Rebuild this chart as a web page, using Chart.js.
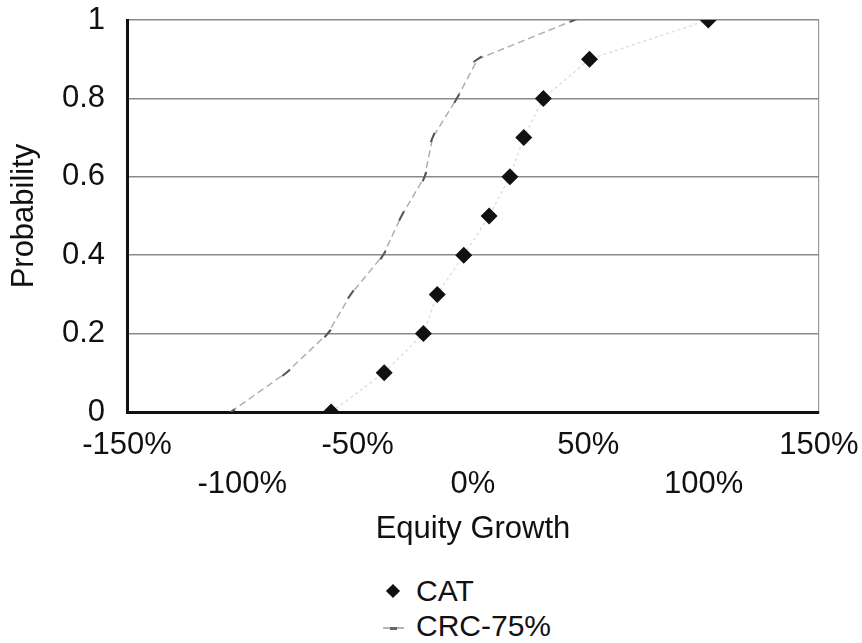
<!DOCTYPE html>
<html>
<head>
<meta charset="utf-8">
<script src="https://cdn.jsdelivr.net/npm/chart.js@4/dist/chart.umd.min.js"></script>
<style>
  html, body { margin: 0; padding: 0; background: #ffffff; }
  #wrap { position: relative; width: 862px; height: 643px; font-family: "Liberation Sans", Arial, sans-serif; color: #111; }
  #box { position: absolute; left: 0; top: 0; width: 862px; height: 560px; }
  .item { position: absolute; left: 0; height: 36px; line-height: 36px; font-size: 30px; white-space: nowrap; }
  .item span.txt { position: absolute; left: 416px; top: 0; }
  .mark-diamond { position: absolute; left: 388px; top: 13px; width: 10px; height: 10px; background: #111; transform: rotate(45deg); }
  .mark-dash { position: absolute; left: 383px; top: 19px; width: 21px; height: 2px; background: #b5b5b5; }
  .mark-dash::after { content: ""; position: absolute; left: 7px; top: -0.5px; width: 7px; height: 3px; background: #666; }
</style>
</head>
<body>
<div id="wrap">
  <div id="box"><canvas id="chart" width="862" height="560"></canvas></div>
  <div id="legend"></div>
</div>
<script>
// Cumulative probability levels shared by both series
const probability = [0, 0.1, 0.2, 0.3, 0.4, 0.5, 0.6, 0.7, 0.8, 0.9, 1];
// Equity growth (%) at each probability level
const catGrowth = [-61.5, -38.5, -21.5, -15.5, -4, 7, 16, 22, 30.5, 50.5, 102];
const crcGrowth = [-105, -81, -63, -53, -39, -31, -21, -17.5, -7, 2, 44];
const seriesNames = ['CAT', 'CRC-75%'];
const xTickValues = [-150, -100, -50, 0, 50, 100, 150];
const yTickValues = [0, 0.2, 0.4, 0.6, 0.8, 1];
const xTitle = 'Equity Growth';
const yTitle = 'Probability';

const FONT = '"Liberation Sans", Arial, sans-serif';
Chart.defaults.font.family = FONT;
Chart.defaults.color = '#111';

const toPoints = (xs) => probability.map((p, i) => ({ x: xs[i], y: p }));

// Orient each dash marker along the local direction of the curve
function dashAngle(ctx) {
  if (ctx.type !== 'data') return 0;
  const sx = ctx.chart.scales.x, sy = ctx.chart.scales.y;
  const n = crcGrowth.length, i = ctx.dataIndex;
  const a = Math.max(i - 1, 0), b = Math.min(i + 1, n - 1);
  const dx = sx.getPixelForValue(crcGrowth[b]) - sx.getPixelForValue(crcGrowth[a]);
  const dy = sy.getPixelForValue(probability[b]) - sy.getPixelForValue(probability[a]);
  return Math.atan2(dy, dx) * 180 / Math.PI;
}

const chart = new Chart(document.getElementById('chart'), {
  type: 'scatter',
  data: {
    datasets: [
      {
        label: seriesNames[0],
        data: toPoints(catGrowth),
        showLine: true,
        borderColor: 'rgba(0,0,0,0.13)',
        borderWidth: 1.5,
        borderDash: [3, 3],
        pointStyle: 'rectRot',
        pointRadius: 8.5,
        pointBackgroundColor: '#111',
        pointBorderColor: '#111',
        pointBorderWidth: 0,
        clip: 0
      },
      {
        label: seriesNames[1],
        data: toPoints(crcGrowth),
        showLine: true,
        borderColor: '#b0b0b0',
        borderWidth: 1.5,
        borderDash: [7, 4],
        pointStyle: 'line',
        pointRadius: 5,
        pointBorderColor: '#555',
        pointBorderWidth: 2,
        pointRotation: dashAngle
      }
    ]
  },
  options: {
    responsive: false,
    animation: false,
    events: [],
    layout: { padding: { top: 20, right: 43, bottom: 0, left: 0 } },
    plugins: { legend: { display: false }, tooltip: { enabled: false } },
    scales: {
      x: {
        type: 'linear',
        min: -150,
        max: 150,
        afterBuildTicks: (s) => { s.ticks = xTickValues.map(v => ({ value: v })); },
        afterFit: (s) => { s.height = 148; s.paddingLeft = 0; s.paddingRight = 0; },
        ticks: {
          autoSkip: false,
          maxRotation: 0,
          minRotation: 0,
          padding: 14,
          color: '#111',
          font: { size: 31, lineHeight: 1.26 },
          // stagger the labels over two rows
          callback: (v, i) => (i % 2 === 0 ? v + '%' : ['', v + '%'])
        },
        grid: {
          drawTicks: false,
          color: (ctx) => (ctx.tick && ctx.tick.value === 150 ? '#9a9a9a' : 'rgba(0,0,0,0)'),
          lineWidth: 1.2,
          borderDash: [5, 6]
        },
        border: { display: true, color: '#111', width: 3 },
        title: {
          display: true,
          text: xTitle,
          color: '#111',
          font: { size: 31 },
          padding: { top: 0, bottom: 12 }
        }
      },
      y: {
        type: 'linear',
        min: 0,
        max: 1,
        afterBuildTicks: (s) => { s.ticks = yTickValues.map(v => ({ value: v })); },
        afterFit: (s) => { s.width = 127; s.paddingTop = 0; s.paddingBottom = 0; },
        ticks: {
          padding: 22,
          color: '#111',
          font: { size: 31 },
          callback: (v) => String(v)
        },
        grid: {
          drawTicks: false,
          color: '#8a8a8a',
          lineWidth: 1.5
        },
        border: { display: true, color: '#111', width: 3 },
        title: {
          display: true,
          text: yTitle,
          color: '#111',
          font: { size: 31 },
          padding: { top: 6, bottom: 0 }
        }
      }
    }
  }
});

// Stacked legend below the plot, built from the dataset labels
const legend = document.getElementById('legend');
const rows = [
  { name: chart.data.datasets[0].label, cls: 'mark-diamond', top: 573 },
  { name: chart.data.datasets[1].label, cls: 'mark-dash', top: 608 }
];
rows.forEach(r => {
  const item = document.createElement('div');
  item.className = 'item';
  item.style.top = r.top + 'px';
  item.style.width = '862px';
  const mark = document.createElement('div');
  mark.className = r.cls;
  const txt = document.createElement('span');
  txt.className = 'txt';
  txt.textContent = r.name;
  item.appendChild(mark);
  item.appendChild(txt);
  legend.appendChild(item);
});
</script>
</body>
</html>
